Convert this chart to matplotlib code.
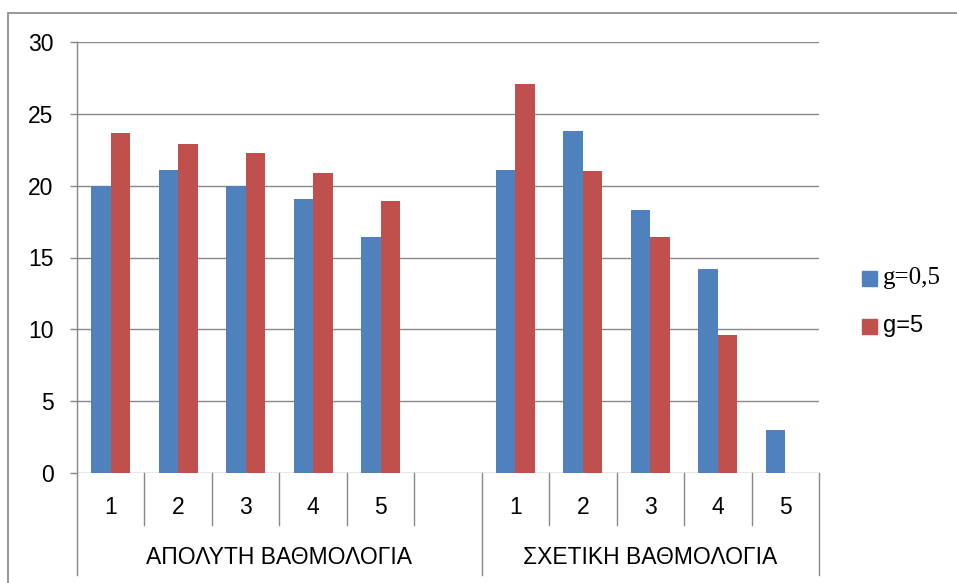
import numpy as np
import matplotlib
matplotlib.use("Agg")
import matplotlib.pyplot as plt
from matplotlib.patches import Rectangle
import matplotlib.transforms as mtransforms

# grade categories inside each scoring group
ranks = ["1", "2", "3", "4", "5"]
groups = ["ΑΠΟΛΥΤΗ ΒΑΘΜΟΛΟΓΙΑ", "ΣΧΕΤΙΚΗ ΒΑΘΜΟΛΟΓΙΑ"]
series_names = ["g=0,5", "g=5"]

abs_g05 = [20.0, 21.1, 20.0, 19.1, 16.4]
abs_g5 = [23.7, 22.9, 22.3, 20.9, 18.9]
rel_g05 = [21.1, 23.8, 18.3, 14.2, 3.0]
rel_g5 = [27.1, 21.0, 16.4, 9.6, 0.0]

yticks = [0, 5, 10, 15, 20, 25, 30]

BLUE = "#4F81BD"
RED = "#C0504D"
GRID = "#888888"
FONT = "Liberation Sans"
FS = 16.5

W, H = 957, 583
fig = plt.figure(figsize=(W / 100, H / 100), dpi=100)
ax = fig.add_axes([77 / W, 1 - 473 / H, (819 - 77) / W, (473 - 42) / H])

# slots: group 1 uses 0..4 plus an empty slot 5, group 2 uses 6..10
pos1 = np.arange(5)
pos2 = np.arange(5) + 6
bw = 0.29

ax.bar(pos1 - bw / 2, abs_g05, bw, color=BLUE, zorder=3)
ax.bar(pos1 + bw / 2, abs_g5, bw, color=RED, zorder=3)
ax.bar(pos2 - bw / 2, rel_g05, bw, color=BLUE, zorder=3)
ax.bar(pos2 + bw / 2, rel_g5, bw, color=RED, zorder=3)

ax.set_xlim(-0.5, 10.5)
ax.set_ylim(0, 30)
ax.set_yticks(yticks)
ax.set_yticklabels([str(v) for v in yticks], fontsize=FS, family=FONT)
ax.tick_params(axis="y", length=5, width=1, color=GRID, pad=12)
ax.set_xticks([])
ax.yaxis.grid(True, color=GRID, lw=1, zorder=0)

for side in ["top", "right", "bottom", "left"]:
    ax.spines[side].set_visible(False)

trans = mtransforms.blended_transform_factory(ax.transData, ax.transAxes)
inner_bottom = -(525 - 473) / (473 - 42)
outer_bottom = -(575 - 473) / (473 - 42)

# category separators below the baseline
for b in np.arange(-0.5, 11, 1.0):
    low = outer_bottom if b in (-0.5, 5.5, 10.5) else inner_bottom
    top = 1.0 if b == -0.5 else 0.0
    ax.plot([b, b], [low, top], color=GRID, lw=1, transform=trans, clip_on=False, zorder=4)

lab_y = -(508 - 473) / (473 - 42)
grp_y = -(558 - 473) / (473 - 42)
for p, r in zip(pos1, ranks):
    ax.text(p, lab_y, r, transform=trans, ha="center", va="center", fontsize=FS, family=FONT)
for p, r in zip(pos2, ranks):
    ax.text(p, lab_y, r, transform=trans, ha="center", va="center", fontsize=FS, family=FONT)
ax.text(2.5, grp_y, groups[0], transform=trans, ha="center", va="center", fontsize=FS, family=FONT)
ax.text(8.0, grp_y, groups[1], transform=trans, ha="center", va="center", fontsize=FS, family=FONT)

# legend
def px(x, y):
    return x / W, 1 - y / H

fig.patches.append(Rectangle(px(862, 286), 15 / W, 15 / H, color=BLUE, transform=fig.transFigure))
fig.patches.append(Rectangle(px(862, 334), 15 / W, 15 / H, color=RED, transform=fig.transFigure))
fig.text(*px(883, 278), series_names[0], ha="left", va="center", fontsize=18, family="Liberation Serif")
fig.text(*px(883, 326), series_names[1], ha="left", va="center", fontsize=17, family=FONT)

# chart border
fig.patches.append(Rectangle(px(8, 600), 1.1, (600 - 13) / H, fill=False, ec=GRID, lw=1.2,
                             transform=fig.transFigure))

fig.savefig("out.png", dpi=100, facecolor="white")
